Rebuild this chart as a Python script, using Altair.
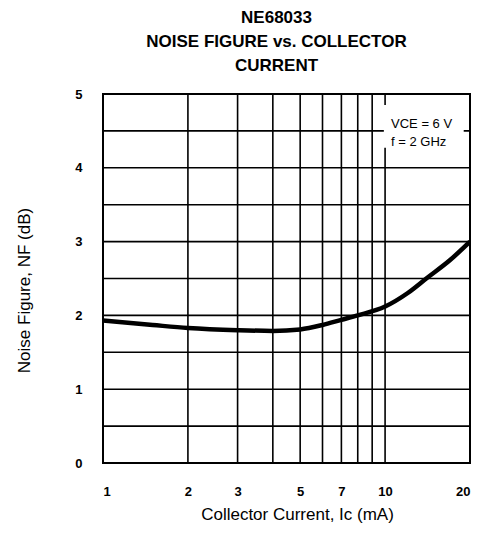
import altair as alt
import pandas as pd

# Curve values
current_ma = [1, 1.5, 2, 3, 4, 5, 6, 7, 8, 10, 12, 14, 17, 20]
noise_db = [1.93, 1.87, 1.83, 1.80, 1.79, 1.81, 1.87, 1.94, 2.00, 2.12, 2.30, 2.50, 2.75, 3.00]

x_ticks = [1, 2, 3, 5, 7, 10, 20]
x_grid = [1, 2, 3, 4, 5, 6, 7, 8, 9, 10, 20]
y_ticks = [0, 1, 2, 3, 4, 5]
y_grid = [0, 0.5, 1, 1.5, 2, 2.5, 3, 3.5, 4, 4.5, 5]

note_lines = ["VCE = 6 V", "f = 2 GHz"]
note_y = [4.6, 4.35]

FONT = "Liberation Sans"

xs = alt.Scale(type="log", domain=[1, 20], nice=False)
ys = alt.Scale(domain=[0, 5], nice=False)

curve_df = pd.DataFrame({"ic": current_ma, "nf": noise_db})
vgrid_df = pd.DataFrame({"g": x_grid})
hgrid_df = pd.DataFrame({"g": y_grid})
note_df = pd.DataFrame({"t": note_lines, "y": note_y, "x": [10.5, 10.5]})
box_df = pd.DataFrame({"x": [9.9], "x2": [19.0], "y": [4.27], "y2": [4.85]})

vgrid = alt.Chart(vgrid_df).mark_rule(color="black", strokeWidth=1.6).encode(
    x=alt.X("g:Q", scale=xs,
            axis=alt.Axis(values=x_ticks, format="d", grid=False, ticks=False, domain=False,
                          labelFont=FONT, labelFontSize=13, labelFontWeight="bold",
                          labelColor="black", labelPadding=22, labelFlush=True,
                          title="Collector Current, Ic (mA)", titleFont=FONT,
                          titleFontSize=17, titleFontWeight="normal", titleColor="black",
                          titlePadding=8, titleX=194))
)

hgrid = alt.Chart(hgrid_df).mark_rule(color="black", strokeWidth=1.6).encode(
    y=alt.Y("g:Q", scale=ys,
            axis=alt.Axis(values=y_ticks, format="d", grid=False, ticks=False, domain=False,
                          labelFont=FONT, labelFontSize=13, labelFontWeight="bold",
                          labelColor="black", labelPadding=21,
                          title="Noise Figure, NF (dB)", titleFont=FONT,
                          titleFontSize=17, titleFontWeight="normal", titleColor="black",
                          titlePadding=41, titleY=196))
)

box = alt.Chart(box_df).mark_rect(color="white").encode(
    x=alt.X("x:Q", scale=xs), x2="x2:Q",
    y=alt.Y("y:Q", scale=ys), y2="y2:Q",
)

note = alt.Chart(note_df).mark_text(
    align="left", baseline="middle", font=FONT, fontSize=13, color="black", fontWeight=500
).encode(
    x=alt.X("x:Q", scale=xs), y=alt.Y("y:Q", scale=ys), text="t:N"
)

curve = alt.Chart(curve_df).mark_line(color="black", strokeWidth=4.5, interpolate="monotone").encode(
    x=alt.X("ic:Q", scale=xs), y=alt.Y("nf:Q", scale=ys)
)

chart = alt.layer(vgrid, hgrid, box, note, curve).properties(
    width=367, height=369,
    title=alt.TitleParams(
        text=["NE68033", "NOISE FIGURE vs. COLLECTOR", "CURRENT"],
        font=FONT, fontSize=17, fontWeight="bold", color="black",
        lineHeight=24, anchor="middle", dx=-10, offset=13,
    ),
    autosize=alt.AutoSizeParams(type="none"),
    padding={"left": 95, "top": 86, "right": 1, "bottom": 60},
    background="white",
).configure_view(stroke="black", strokeWidth=2)

chart.save("out.html", embed_options={"renderer": "svg", "actions": False})
